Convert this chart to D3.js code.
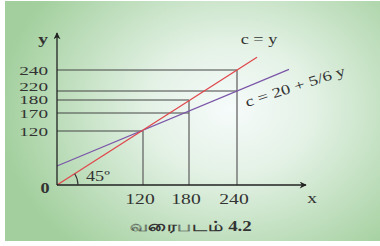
<!DOCTYPE html>
<html lang="ta">
<head>
    <meta charset="utf-8">
    <script src="https://d3js.org/d3.v7.min.js"></script>
    <style>
        body { margin: 0; background: #fff; }
        text { font-family: "Liberation Serif", "DejaVu Serif", serif; fill: #333; }
    </style>
</head>
<body>
    <script type="text/javascript">

        let w = 380;
        let h = 246;

        // values shown on the axes (the picture is a sketch, so the scales are piecewise)
        let xTicks = [120, 180, 240];
        let yTicks = [120, 170, 180, 220, 240];
        let yTickLabels = ["120", "170", "180", "220", "240"];
        let yLabelNudge = [0, 0, -0.5, -4.5, 0]; // labels squeezed apart in the original

        // guide lines: [x, y] points dropped onto the axes
        let guidePoints = [[120, 120], [180, 180], [180, 170], [240, 240], [240, 220]];

        // c = y (45 degree line) and c = 20 + 5/6 y
        let lineRed = [[0, 0], [240, 240]];
        let linePurple = [[0, 20], [240, 220]];
        let redEndX = 265;
        let purpleEndX = 305;

        let svg = d3.select("body").append("svg")
                    .attr("width", w)
                    .attr("height", h);

        let defs = svg.append("defs");
        let grad = defs.append("radialGradient")
                    .attr("id", "bg")
                    .attr("cx", 0.6).attr("cy", 0.45)
                    .attr("r", 0.62)
                    .attr("gradientTransform", "translate(0.6,0.45) scale(1,1.25) translate(-0.6,-0.45)");
        grad.append("stop").attr("offset", "0%").attr("stop-color", "#f6fbfb");
        grad.append("stop").attr("offset", "35%").attr("stop-color", "#e4f2e6");
        grad.append("stop").attr("offset", "100%").attr("stop-color", "#a2cf9d");

        svg.append("rect")
            .attr("x", 5).attr("y", 1)
            .attr("width", 375).attr("height", 240)
            .attr("fill", "url(#bg)");

        let x = d3.scaleLinear()
                    .domain([0, 120, 180, 240, 300])
                    .range([57, 143, 189, 237, 285]);

        let y = d3.scaleLinear()
                    .domain([0, 20, 120, 170, 180, 220, 240])
                    .range([185, 166, 131, 113, 100, 91, 70]);

        // text in the original is stretched sideways
        let label = function(txt, tx, ty, size, anchor, sx, rot) {
            let t = svg.append("text")
                .text(txt)
                .attr("transform", "translate(" + tx + "," + ty + ")" +
                      (rot ? " rotate(" + rot + ")" : "") + " scale(" + sx + ",1)")
                .attr("font-size", size)
                .attr("text-anchor", anchor);
            return t;
        };

        // guide lines
        guidePoints.forEach(function(p) {
            svg.append("line")
                .attr("x1", x(0)).attr("x2", x(p[0]))
                .attr("y1", y(p[1])).attr("y2", y(p[1]))
                .attr("stroke", "#444").attr("stroke-width", 1);
        });
        xTicks.forEach(function(t) {
            let top = d3.min(guidePoints.filter(function(p) { return p[0] == t; }), function(p) { return y(p[1]); });
            svg.append("line")
                .attr("x1", x(t)).attr("x2", x(t))
                .attr("y1", top).attr("y2", y(0))
                .attr("stroke", "#666").attr("stroke-width", 1.3);
        });

        // extend a line past its last point, straight on the page
        let extend = function(pts, xEnd) {
            let x0 = x(pts[0][0]), y0 = y(pts[0][1]);
            let x1 = x(pts[1][0]), y1 = y(pts[1][1]);
            let xe = x(xEnd);
            return [[x0, y0], [xe, y0 + (y1 - y0) * (xe - x0) / (x1 - x0)]];
        };

        let r = extend(lineRed, redEndX);
        let p = extend(linePurple, purpleEndX);

        svg.append("path")
            .attr("d", d3.line()(p))
            .attr("stroke", "#7a55a8").attr("stroke-width", 1.2).attr("fill", "none");
        svg.append("path")
            .attr("d", d3.line()(r))
            .attr("stroke", "#e0474c").attr("stroke-width", 1.3).attr("fill", "none");

        // axes with arrow heads
        defs.append("marker")
            .attr("id", "arrow")
            .attr("viewBox", "0 0 10 10")
            .attr("refX", 9).attr("refY", 5)
            .attr("markerWidth", 9).attr("markerHeight", 7)
            .attr("markerUnits", "userSpaceOnUse")
            .attr("orient", "auto")
            .append("path").attr("d", "M0,0 L10,5 L0,10 L3,5 Z").attr("fill", "#222");

        svg.append("line")
            .attr("x1", x(0)).attr("y1", y(0))
            .attr("x2", 306).attr("y2", y(0))
            .attr("stroke", "#222").attr("stroke-width", 1.3)
            .attr("marker-end", "url(#arrow)");
        svg.append("line")
            .attr("x1", x(0)).attr("y1", y(0))
            .attr("x2", x(0)).attr("y2", 33)
            .attr("stroke", "#222").attr("stroke-width", 1.3)
            .attr("marker-end", "url(#arrow)");

        // 45 degree arc
        let ang = Math.atan2(r[0][1] - r[1][1], r[1][0] - r[0][0]);
        svg.append("path")
            .attr("d", d3.arc()
                .innerRadius(21).outerRadius(21)
                .startAngle(Math.PI / 2 - ang).endAngle(Math.PI / 2))
            .attr("transform", "translate(" + x(0) + "," + y(0) + ")")
            .attr("stroke", "#333").attr("stroke-width", 1.1).attr("fill", "none");

        label("45º", 86, 181, 14, "start", 1.3);

        // tick labels
        yTicks.forEach(function(d, i) {
            label(yTickLabels[i], 48, y(d) + 4.5 + yLabelNudge[i], 12, "end", 1.6);
        });
        xTicks.forEach(function(d) {
            label(String(d), x(d) - 3, 204, 14, "middle", 1.4);
        });

        label("0", 45, 193, 14, "middle", 1.3).attr("font-weight", "bold");
        label("y", 43, 44, 15, "middle", 1.3).attr("font-weight", "bold");
        label("x", 312, 203, 15, "middle", 1.3);

        // line labels
        label("c = y", 259, 44, 14, "middle", 1.3);
        label("c = 20 + 5/6 y", 247, 107, 14, "start", 1.33, -18);

        // caption
        label("வரைபடம் 4.2", 191, 231, 14, "middle", 1.35)
            .attr("font-family", "'Noto Sans', 'DejaVu Sans', sans-serif")
            .attr("font-weight", "bold");

    </script>
</body>
</html>
